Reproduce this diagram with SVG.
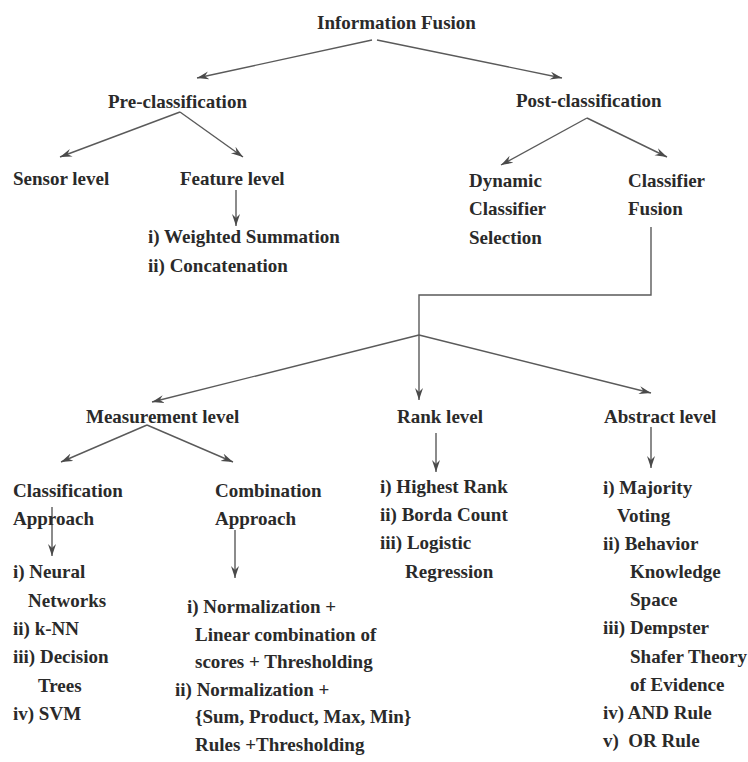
<svg xmlns="http://www.w3.org/2000/svg" width="748" height="762" viewBox="0 0 748 762">
<style>
.t text{font-weight:bold;font-size:19px;fill:#2a2a2a;white-space:pre}
.c line,.c polyline{stroke:#5a5a5a;stroke-width:1.4;fill:none}
</style>
<defs>
<marker id="ah" markerUnits="userSpaceOnUse" markerWidth="14" markerHeight="10" refX="12" refY="4" orient="auto">
<path d="M0,0 L12,4 L0,8 L4,4 Z" fill="#4a4a4a"/>
</marker>
</defs>
<rect width="748" height="762" fill="#fff"/>
<g class="c" id="connectors">
<line x1="372" y1="40" x2="197" y2="78" marker-end="url(#ah)"/>
<line x1="377" y1="40" x2="562" y2="78" marker-end="url(#ah)"/>
<line x1="180" y1="112" x2="60" y2="157" marker-end="url(#ah)"/>
<line x1="180" y1="112" x2="243" y2="157" marker-end="url(#ah)"/>
<line x1="236" y1="190" x2="236" y2="226" marker-end="url(#ah)"/>
<line x1="587" y1="118" x2="501" y2="165" marker-end="url(#ah)"/>
<line x1="587" y1="118" x2="667" y2="157" marker-end="url(#ah)"/>
<polyline points="651,227 651,295 419,295 419,400" marker-end="url(#ah)"/>
<line x1="419" y1="335" x2="152" y2="402" marker-end="url(#ah)"/>
<line x1="419" y1="335" x2="651" y2="393" marker-end="url(#ah)"/>
<line x1="147" y1="425" x2="61" y2="462" marker-end="url(#ah)"/>
<line x1="147" y1="425" x2="233" y2="462" marker-end="url(#ah)"/>
<line x1="436" y1="433" x2="436" y2="472" marker-end="url(#ah)"/>
<line x1="651" y1="427" x2="651" y2="468" marker-end="url(#ah)"/>
<line x1="52" y1="507" x2="52" y2="556" marker-end="url(#ah)"/>
<line x1="235" y1="530" x2="235" y2="578" marker-end="url(#ah)"/>
</g>
<g class="t" font-family="Liberation Serif, Times New Roman, DejaVu Serif, serif">
<g id="information-fusion"><text x="317" y="29">Information Fusion</text></g>
<g id="pre-classification"><text x="108" y="108">Pre-classification</text></g>
<g id="post-classification"><text x="516" y="107">Post-classification</text></g>
<g id="sensor-level"><text x="13" y="185">Sensor level</text></g>
<g id="feature-level"><text x="180" y="185">Feature level</text></g>
<g id="feature-methods">
<text x="148" y="243">i) Weighted Summation</text>
<text x="148" y="272">ii) Concatenation</text>
</g>
<g id="dynamic-classifier-selection">
<text x="469" y="187">Dynamic</text>
<text x="469" y="215">Classifier</text>
<text x="469" y="244">Selection</text>
</g>
<g id="classifier-fusion">
<text x="628" y="187">Classifier</text>
<text x="628" y="215">Fusion</text>
</g>
<g id="measurement-level"><text x="86" y="423">Measurement level</text></g>
<g id="rank-level"><text x="397" y="423">Rank level</text></g>
<g id="abstract-level"><text x="604" y="423">Abstract level</text></g>
<g id="classification-approach">
<text x="13" y="497">Classification</text>
<text x="13" y="525">Approach</text>
</g>
<g id="combination-approach">
<text x="215" y="497">Combination</text>
<text x="215" y="525">Approach</text>
</g>
<g id="classification-methods">
<text x="13" y="578">i) Neural</text>
<text x="28" y="607">Networks</text>
<text x="13" y="635">ii) k-NN</text>
<text x="13" y="663">iii) Decision</text>
<text x="38" y="692">Trees</text>
<text x="13" y="720">iv) SVM</text>
</g>
<g id="combination-methods">
<text x="187" y="613">i) Normalization +</text>
<text x="195" y="641">Linear combination of</text>
<text x="195" y="668">scores + Thresholding</text>
<text x="175" y="696">ii) Normalization +</text>
<text x="195" y="723">{Sum, Product, Max, Min}</text>
<text x="195" y="751">Rules +Thresholding</text>
</g>
<g id="rank-methods">
<text x="380" y="493">i) Highest Rank</text>
<text x="380" y="521">ii) Borda Count</text>
<text x="380" y="549">iii) Logistic</text>
<text x="405" y="578">Regression</text>
</g>
<g id="abstract-methods">
<text x="603" y="494">i) Majority</text>
<text x="617" y="522">Voting</text>
<text x="603" y="550">ii) Behavior</text>
<text x="630" y="578">Knowledge</text>
<text x="630" y="606">Space</text>
<text x="603" y="634">iii) Dempster</text>
<text x="630" y="663">Shafer Theory</text>
<text x="630" y="691">of Evidence</text>
<text x="603" y="719">iv) AND Rule</text>
<text x="603" y="747">v)  OR Rule</text>
</g>
</g>
</svg>
